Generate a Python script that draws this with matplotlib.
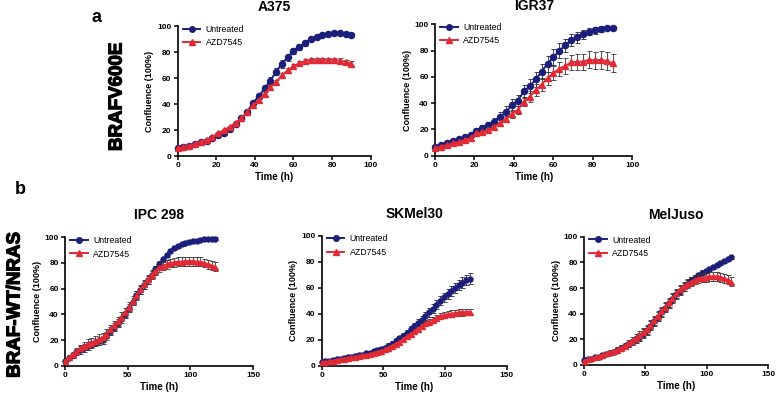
import numpy as np
import matplotlib
matplotlib.use("Agg")
import matplotlib.pyplot as plt
import matplotlib.patheffects as pe
from matplotlib.lines import Line2D

plt.rcParams['font.family'] = ['Liberation Sans', 'DejaVu Sans']

# =========================================================
# DATA
# =========================================================
t_top = np.arange(0, 91, 3)      # hours, panel a
t_bot = np.arange(0, 121, 3)     # hours, panel b

a375_untr = [6, 7, 8, 9.5, 10.5, 11.5, 13.5, 16, 18, 21, 25, 29, 34, 41, 46, 52,
             58, 65, 71, 76, 81, 84, 87, 90, 92, 93.5, 94, 94.5, 94.5, 94, 93.5]
a375_untr_err = [0.5, 0.5, 0.5, 0.6, 0.6, 0.7, 0.8, 1, 1, 1.2, 1.3, 1.5, 1.8, 2, 2.2, 2.5,
                 2.8, 3, 3, 2.8, 2.5, 2.2, 2, 1.8, 1.5, 1.2, 1, 1, 0.8, 0.8, 0.8]
a375_azd = [6, 7, 8, 9.5, 11, 12.5, 14.5, 17.5, 20, 22.5, 25.5, 29, 34, 39, 43, 48,
            53, 57, 62, 66, 69, 71.5, 73, 74, 74, 74, 74, 74, 73.5, 72.5, 71]
a375_azd_err = [0.5, 0.5, 0.5, 0.6, 0.6, 0.7, 0.8, 0.9, 1, 1, 1.2, 1.3, 1.5, 1.6, 1.8, 1.8,
                1.8, 1.8, 1.8, 1.8, 1.8, 1.8, 1.8, 1.8, 1.8, 1.8, 1.8, 1.8, 1.8, 1.8, 1.8]

igr_untr = [6.5, 8, 9.5, 11, 12.5, 14, 16, 19, 21, 23, 26, 29.5, 33.5, 38.5, 42, 49,
            53, 58, 64, 70, 75, 80, 84, 88, 90, 92.5, 94.5, 95.5, 96.5, 97, 97.5]
igr_untr_err = [1, 1, 1, 1, 1.2, 1.5, 1.8, 2, 2.2, 2.5, 3, 3.5, 4, 4.5, 4.5, 5,
                5.5, 6, 6, 6, 6, 5.5, 5, 4.5, 4, 3.5, 3, 2.5, 2, 1.5, 1.2]
igr_azd = [5.5, 7, 8, 9.5, 10.5, 12, 13.5, 17, 18, 19.5, 22, 25, 28, 32, 35, 41,
           45, 50, 54, 59, 63, 66, 68.5, 71, 71.5, 71.5, 73, 72.5, 73, 72, 70.5]
igr_azd_err = [1, 1, 1, 1, 1, 1.2, 1.5, 1.5, 1.8, 2, 2, 2.2, 2.5, 3, 3, 3.5,
               4, 4.5, 5, 5, 5.5, 5.5, 6, 6, 6, 6, 6.5, 6.5, 7, 7, 7]

ipc_untr = [4, 6, 8, 10.5, 12.5, 14, 15.5, 16.5, 18, 19, 20, 23, 27, 30, 33, 36,
            40, 45, 50, 55, 59, 63, 67, 71, 75, 79, 83, 86.5, 89, 91.5, 93, 94.5,
            95.5, 96.5, 97, 97.5, 98, 98.5, 98.5, 99, 99]
ipc_untr_err = [1, 1.5, 2, 2.5, 3, 3, 3, 3, 3, 3, 3, 3, 3, 3, 3, 3,
                3, 3, 3, 3, 3, 3, 3, 3, 3, 2.5, 2, 1.5, 1.2, 1, 1, 1,
                1, 1, 1, 1, 1, 1, 1, 1, 1]
ipc_azd = [4, 6.5, 9, 11.5, 13.5, 15.5, 17, 18, 19.5, 21, 22, 25, 28.5, 31.5, 34.5, 38,
           41.5, 46, 50.5, 55, 59.5, 63.5, 67.5, 71, 74, 76.5, 78, 79, 80, 80.5, 81, 81,
           81.5, 81.5, 81.5, 81, 81, 80, 79, 78, 77]
ipc_azd_err = [1, 1.5, 2, 2.5, 3, 3, 3.5, 3.5, 3.5, 3.5, 3.5, 3.5, 3.5, 3.5, 3.5, 3.5,
               3.5, 3.5, 3.5, 3.5, 3.5, 3.5, 3.5, 3.5, 3.5, 3.5, 3.5, 3.5, 3.5, 3.5, 3.5, 3.5,
               3.5, 3.5, 3.5, 3.5, 3.5, 3.5, 3.5, 3.5, 3.5]

skm_untr = [3, 3.5, 4, 4.5, 5, 5.5, 6, 6.5, 7, 7.5, 8, 8.5, 9.5, 10, 11, 12,
            13, 14, 15.5, 17, 19, 21, 23, 25.5, 28, 30.5, 33, 35.5, 38, 41, 44, 47,
            50, 52.5, 55, 57.5, 60, 62, 64, 66, 67]
skm_untr_err = [0.5, 0.5, 0.5, 0.5, 0.5, 0.5, 0.6, 0.6, 0.7, 0.7, 0.8, 0.8, 0.9, 1, 1, 1.2,
                1.3, 1.5, 1.6, 1.8, 2, 2, 2.2, 2.3, 2.5, 2.6, 2.8, 3, 3, 3.2, 3.3, 3.4,
                3.5, 3.6, 3.7, 3.8, 3.8, 3.9, 4, 4, 4]
skm_azd = [2.5, 3, 3.5, 4, 4.5, 5, 5.5, 6, 6.5, 7, 7.5, 8, 8.5, 9, 10, 10.5,
           11.5, 12.5, 14, 15.5, 17, 18.5, 20.5, 22.5, 24.5, 26.5, 28.5, 30.5, 32.5, 34, 35.5, 37,
           38, 39, 39.5, 40, 40.5, 41, 41, 41.5, 41.5]
skm_azd_err = [0.5, 0.5, 0.5, 0.5, 0.5, 0.5, 0.5, 0.6, 0.6, 0.6, 0.7, 0.7, 0.8, 0.8, 0.9, 1,
               1, 1.1, 1.2, 1.3, 1.4, 1.5, 1.6, 1.7, 1.8, 1.9, 2, 2, 2.1, 2.2, 2.2, 2.3,
               2.3, 2.4, 2.4, 2.5, 2.5, 2.5, 2.5, 2.5, 2.5]

mel_untr = [4, 4.5, 5, 6, 6.5, 7.5, 8.5, 9.5, 10.5, 11.5, 13, 14.5, 16, 18, 20, 22,
            24.5, 27, 30.5, 34, 37.5, 41, 44.5, 48, 51.5, 55, 58, 61, 63.5, 66, 68, 70,
            72, 73.5, 75, 76.5, 78, 79.5, 81, 82.5, 84]
mel_untr_err = [0.5, 0.5, 0.6, 0.7, 0.8, 0.9, 1, 1.2, 1.4, 1.6, 1.8, 2, 2.2, 2.5, 2.8, 3,
                3.2, 3.4, 3.5, 3.5, 3.5, 3.5, 3.5, 3.5, 3.5, 3.5, 3.2, 3, 2.8, 2.5, 2.2, 2,
                1.8, 1.6, 1.5, 1.4, 1.3, 1.2, 1.2, 1.2, 1.2]
mel_azd = [3.5, 4.5, 5.5, 6, 7, 8, 9, 10, 11, 12, 13.5, 15, 17, 19, 21, 23,
           25.5, 28, 31.5, 35, 38.5, 42, 45.5, 49, 52.5, 56, 59, 61.5, 63.5, 65, 66.5, 67.5,
           68, 68.5, 69, 69, 69, 68.5, 67.5, 66.5, 65]
mel_azd_err = [0.5, 0.6, 0.7, 0.8, 1, 1.2, 1.4, 1.6, 1.8, 2, 2.2, 2.5, 2.8, 3, 3.2, 3.4,
               3.5, 3.5, 3.5, 3.5, 3.5, 3.5, 3.5, 3.5, 3.5, 3.5, 3.5, 3.5, 3.5, 3.5, 3.5, 3.5,
               3.5, 3.5, 3.5, 3.5, 3.5, 3.5, 3.5, 3.5, 3.5]

# =========================================================
# STYLE
# =========================================================
BLUE = '#1c1f7a'
RED = '#e02a35'
thick = [pe.withStroke(linewidth=0.9, foreground='black')]

panels = [
    # title, t, untreated, err, azd, err, xmax, xstep, axes rect, marker size, title pad
    ("A375", t_top, a375_untr, a375_untr_err, a375_azd, a375_azd_err, 100, 20,
     [0.229, 0.606, 0.2487, 0.328], 4.4, 11),
    ("IGR37", t_top, igr_untr, igr_untr_err, igr_azd, igr_azd_err, 100, 20,
     [0.5606, 0.6068, 0.2543, 0.3318], 4.4, 10),
    ("IPC 298", t_bot, ipc_untr, ipc_untr_err, ipc_azd, ipc_azd_err, 150, 50,
     [0.0838, 0.0765, 0.2423, 0.3242], 3.6, 13),
    ("SKMel30", t_bot, skm_untr, skm_untr_err, skm_azd, skm_azd_err, 150, 50,
     [0.4146, 0.0765, 0.2384, 0.3283], 3.6, 13),
    ("MelJuso", t_bot, mel_untr, mel_untr_err, mel_azd, mel_azd_err, 150, 50,
     [0.7526, 0.0783, 0.2375, 0.324], 3.6, 13),
]

fig = plt.figure(figsize=(7.76, 3.96), dpi=100)

for title, t, u, ue, d, de, xmax, xstep, rect, ms, tpad in panels:
    ax = fig.add_axes(rect)
    ax.errorbar(t, u, yerr=ue, color=BLUE, ecolor='#222244', elinewidth=0.6,
                capsize=1.8, capthick=0.6, marker='o', markersize=ms, lw=1.4,
                clip_on=False, zorder=3)
    ax.errorbar(t, d, yerr=de, color=RED, ecolor='#333333', elinewidth=0.6,
                capsize=1.8, capthick=0.6, marker='^', markersize=ms, lw=1.4,
                clip_on=False, zorder=4)

    ax.set_xlim(0, xmax)
    ax.set_ylim(0, 100)
    ax.set_xticks(np.arange(0, xmax + 1, xstep))
    ax.set_yticks(np.arange(0, 101, 20))
    for s in ['top', 'right']:
        ax.spines[s].set_visible(False)
    for s in ['left', 'bottom']:
        ax.spines[s].set_linewidth(1.2)
    ax.tick_params(direction='out', length=3, width=1.1, labelsize=6, pad=1.5)
    for lab in ax.get_xticklabels() + ax.get_yticklabels():
        lab.set_fontweight('bold')

    ax.set_title(title, fontsize=10, fontweight='bold', pad=tpad)
    ax.set_xlabel('Time (h)', fontsize=7, fontweight='bold', labelpad=2)
    ax.set_ylabel('Confluence (100%)', fontsize=6.5, fontweight='bold', labelpad=2)

    handles = [Line2D([], [], color=BLUE, marker='o', markersize=4, lw=1.4),
               Line2D([], [], color=RED, marker='^', markersize=4, lw=1.4)]
    ax.legend(handles, ['Untreated', 'AZD7545'], loc='upper left',
              bbox_to_anchor=(0.0, 1.05), frameon=False, fontsize=6.3,
              handlelength=2.0, handletextpad=0.6, labelspacing=0.5,
              borderaxespad=0.2)

# panel letters and row labels
fig.text(97 / 776, 1 - 18 / 396, 'a', fontsize=13, fontweight='bold', ha='center', va='center')
fig.text(20 / 776, 1 - 190 / 396, 'b', fontsize=13, fontweight='bold', ha='center', va='center')
fig.text(117 / 776, 1 - 97 / 396, 'BRAFV600E', fontsize=13.5, fontweight='bold',
         rotation=90, ha='center', va='center', path_effects=thick)
fig.text(15 / 776, 1 - 305 / 396, 'BRAF-WT/NRAS', fontsize=13.5, fontweight='bold',
         rotation=90, ha='center', va='center', path_effects=thick)

fig.savefig('out.png', dpi=100)
